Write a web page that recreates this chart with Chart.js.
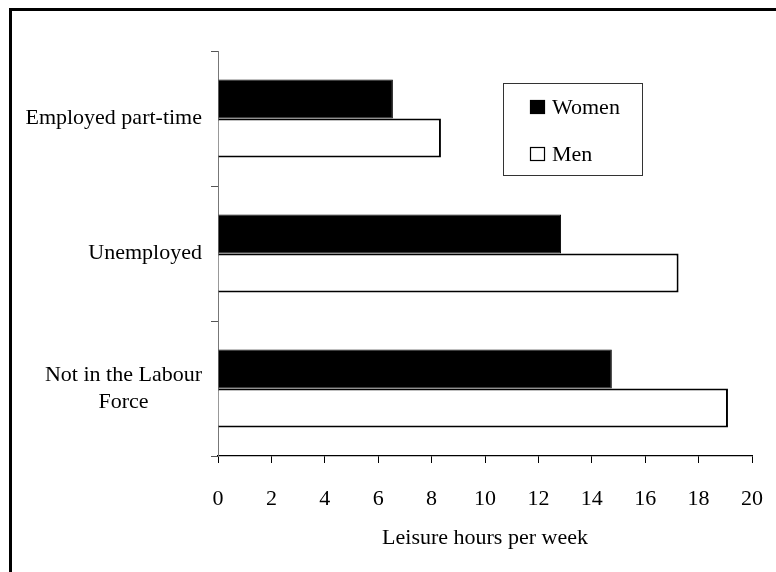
<!DOCTYPE html>
<html>
<head>
<meta charset="utf-8">
<script src="https://cdn.jsdelivr.net/npm/chart.js@4"></script>
<style>
  html, body { margin: 0; padding: 0; background: #fff; }
  #wrap { width: 776px; height: 572px; }
</style>
</head>
<body>
<div id="wrap"><canvas id="chart" width="776" height="572"></canvas></div>
<script>
// datos
const categories = ['Employed part-time', 'Unemployed', ['Not in the Labour', 'Force']];
const women = [6.55, 12.85, 14.75];
const men = [8.35, 17.25, 19.1];
const xTicks = [0, 2, 4, 6, 8, 10, 12, 14, 16, 18, 20];

const FONT = 'Liberation Serif, Times New Roman, serif';
const SIZE = 22;

// marco exterior (solo se ve arriba y a la izquierda)
const framePlugin = {
    id: 'frame',
    beforeDraw(chart) {
        const ctx = chart.ctx;
        ctx.save();
        ctx.fillStyle = '#fff';
        ctx.fillRect(0, 0, chart.width, chart.height);
        ctx.strokeStyle = '#000';
        ctx.lineWidth = 3;
        ctx.beginPath();
        ctx.moveTo(10.5, chart.height);
        ctx.lineTo(10.5, 9.5);
        ctx.lineTo(chart.width, 9.5);
        ctx.stroke();
        ctx.restore();
    }
};

// etiquetas del eje y: segunda linea centrada bajo la primera
const yLabelsPlugin = {
    id: 'yLabels',
    afterDraw(chart) {
        const ctx = chart.ctx;
        const y = chart.scales.y;
        const right = y.right - 16;
        const lh = 27;
        ctx.save();
        ctx.font = SIZE + 'px ' + FONT;
        ctx.fillStyle = '#000';
        ctx.textBaseline = 'middle';
        ctx.textAlign = 'center';
        chart.data.labels.forEach((lab, i) => {
            const lines = Array.isArray(lab) ? lab : [lab];
            const widest = Math.max(...lines.map(l => ctx.measureText(l).width));
            const cy = y.getPixelForValue(i) - (lines.length - 1) * lh / 2;
            lines.forEach((l, k) => {
                ctx.fillText(l, right - widest / 2, cy + k * lh);
            });
        });
        ctx.restore();
    }
};

// leyenda dentro de una caja
const legendBoxPlugin = {
    id: 'legendBox',
    afterDraw(chart) {
        const ctx = chart.ctx;
        const box = { x: 503.5, y: 83.5, w: 139, h: 92 };
        ctx.save();
        ctx.strokeStyle = '#333';
        ctx.lineWidth = 1;
        ctx.strokeRect(box.x, box.y, box.w, box.h);
        ctx.font = SIZE + 'px ' + FONT;
        ctx.textBaseline = 'middle';
        ctx.textAlign = 'left';
        chart.data.datasets.forEach((ds, i) => {
            const cy = 107 + i * 47;
            ctx.fillStyle = ds.backgroundColor;
            ctx.fillRect(530, cy - 7, 15, 14);
            ctx.strokeStyle = '#000';
            ctx.lineWidth = 1.2;
            ctx.strokeRect(530.5, cy - 6.5, 14, 13);
            ctx.fillStyle = '#000';
            ctx.fillText(ds.label, 552, cy + 1);
        });
        ctx.restore();
    }
};

function initChart() {
    const ctx = document.getElementById('chart').getContext('2d');
    new Chart(ctx, {
        type: 'bar',
        data: {
            labels: categories,
            datasets: [
                {
                    label: 'Women',
                    data: women,
                    backgroundColor: '#000',
                    borderColor: '#000',
                    borderWidth: 1
                },
                {
                    label: 'Men',
                    data: men,
                    backgroundColor: '#fff',
                    borderColor: '#000',
                    borderWidth: 2
                }
            ]
        },
        options: {
            indexAxis: 'y',
            responsive: false,
            animation: false,
            layout: { padding: { top: 51, right: 24, left: 0, bottom: 0 } },
            datasets: {
                bar: { barPercentage: 1, categoryPercentage: 0.578 }
            },
            plugins: {
                legend: { display: false },
                tooltip: { enabled: false }
            },
            scales: {
                x: {
                    min: 0,
                    max: 20,
                    afterBuildTicks(scale) {
                        scale.ticks = xTicks.map(v => ({ value: v }));
                    },
                    afterFit(scale) {
                        scale.height = 116;
                        scale.paddingRight = 0;
                    },
                    border: { display: true, color: '#000', width: 1.3 },
                    grid: {
                        drawOnChartArea: false,
                        drawTicks: true,
                        tickLength: 7,
                        color: '#000'
                    },
                    ticks: {
                        color: '#000',
                        font: { family: FONT, size: SIZE },
                        padding: 23,
                        maxRotation: 0
                    },
                    title: {
                        display: true,
                        text: 'Leisure hours per week',
                        color: '#000',
                        font: { family: FONT, size: SIZE },
                        padding: { top: 0, bottom: 21 }
                    }
                },
                y: {
                    afterFit(scale) { scale.width = 218; },
                    border: { display: true, color: '#777', width: 1 },
                    grid: {
                        offset: true,
                        drawOnChartArea: false,
                        drawTicks: true,
                        tickLength: 7,
                        color: '#555'
                    },
                    ticks: { display: false }
                }
            }
        },
        plugins: [framePlugin, yLabelsPlugin, legendBoxPlugin]
    });
}

document.addEventListener('DOMContentLoaded', initChart);
</script>
</body>
</html>
